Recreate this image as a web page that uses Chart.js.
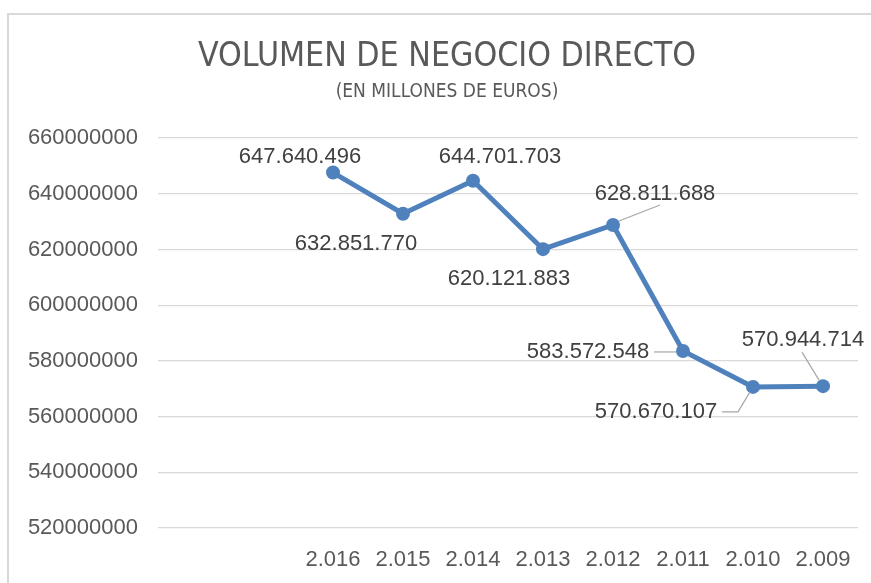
<!DOCTYPE html>
<html><head><meta charset="utf-8">
<script src="https://cdn.jsdelivr.net/npm/chart.js@4"></script>
<style>
html,body{margin:0;padding:0;background:#fff;width:871px;height:583px;overflow:hidden}
#frame{position:absolute;left:7px;top:13px;width:900px;height:600px;border-left:2px solid #d9d9d9;border-top:2px solid #d9d9d9}
#wrap{position:absolute;left:0;top:0;width:871px;height:583px}
</style></head><body>
<div id="frame"></div>
<div id="wrap"><canvas id="c"></canvas></div>
<script>
// ---- data ----
const titleText = 'VOLUMEN DE NEGOCIO DIRECTO';
const subtitleText = '(EN MILLONES DE EUROS)';
const years = ['2.016', '2.015', '2.014', '2.013', '2.012', '2.011', '2.010', '2.009'];
const values = [647640496, 632851770, 644701703, 620121883, 628811688, 583572548, 570670107, 570944714];
const emptyLeadingSlots = ['', ''];
const yMin = 520000000, yMax = 660000000, yStep = 20000000;

// ---- build ----
const labels = emptyLeadingSlots.concat(years);
const series = emptyLeadingSlots.map(() => null).concat(values);
const fmt = v => String(v).replace(/\B(?=(\d{3})+(?!\d))/g, '.');

// label placement relative to each plotted point (style only)
const placement = [
  null, null,
  {dx: -33, dy: -16},
  {dx: -47, dy: 30},
  {dx: 27, dy: -24},
  {dx: -34, dy: 30},
  {dx: 42, dy: -31, leader: [[6, -4], [47, -20]]},
  {dx: -95, dy: 1, leader: [[-29, 1], [-7, 1]]},
  {dx: -97, dy: 25, leader: [[-31, 25], [-15, 25], [-3, 5]]},
  {dx: -20, dy: -46, leader: [[-21, -34], [-4, -6]]}
];

const dataLabels = {
  id: 'dataLabels',
  afterDatasetsDraw(chart) {
    const ctx = chart.ctx;
    const meta = chart.getDatasetMeta(0);
    ctx.save();
    meta.data.forEach((pt, i) => {
      const v = chart.data.datasets[0].data[i];
      const p = placement[i];
      if (v == null || !p) return;
      if (p.leader) {
        ctx.beginPath();
        ctx.strokeStyle = '#a6a6a6';
        ctx.lineWidth = 1.2;
        p.leader.forEach((q, k) => {
          const x = pt.x + q[0], y = pt.y + q[1];
          if (k === 0) ctx.moveTo(x, y); else ctx.lineTo(x, y);
        });
        ctx.stroke();
      }
      ctx.fillStyle = '#404040';
      ctx.font = '22px "Liberation Sans", Arial, sans-serif';
      ctx.textAlign = 'center';
      ctx.textBaseline = 'middle';
      ctx.fillText(fmt(v), pt.x + p.dx, pt.y + p.dy);
    });
    ctx.restore();
  }
};

new Chart(document.getElementById('c'), {
  type: 'line',
  data: {
    labels: labels,
    datasets: [{
      data: series,
      borderColor: '#4f81bd',
      backgroundColor: '#4f81bd',
      borderWidth: 5,
      pointRadius: 7,
      pointHoverRadius: 7,
      pointBorderWidth: 0,
      pointBackgroundColor: '#4f81bd',
      tension: 0,
      spanGaps: false
    }]
  },
  options: {
    responsive: true,
    maintainAspectRatio: false,
    devicePixelRatio: 1,
    animation: false,
    layout: {padding: {left: 36, right: 13, top: 20, bottom: 0}},
    plugins: {
      legend: {display: false},
      tooltip: {enabled: false},
      title: {
        display: true,
        text: titleText,
        color: '#595959',
        font: {family: '"Liberation Sans Narrow", "DejaVu Sans Condensed", sans-serif', size: 33.6, weight: 'normal', lineHeight: 1.2},
        padding: {top: 17, bottom: 3}
      },
      subtitle: {
        display: true,
        text: subtitleText,
        color: '#595959',
        font: {family: '"Liberation Sans Narrow", "DejaVu Sans Condensed", sans-serif', size: 19, weight: 'normal', lineHeight: 1.2},
        padding: {top: 0, bottom: 35}
      }
    },
    scales: {
      x: {
        offset: true,
        grid: {display: false, drawTicks: false, offset: true},
        border: {display: false},
        ticks: {
          color: '#595959',
          font: {family: '"Liberation Sans", Arial, sans-serif', size: 22},
          padding: 19,
          autoSkip: false,
          maxRotation: 0
        },
        afterFit(scale) { scale.height = 55; }
      },
      y: {
        min: yMin,
        max: yMax,
        grid: {color: '#d9d9d9', lineWidth: 1.3, drawTicks: false},
        border: {display: false},
        ticks: {
          stepSize: yStep,
          color: '#595959',
          font: {family: '"Liberation Sans", Arial, sans-serif', size: 22},
          padding: 20,
          callback: v => String(v)
        },
        afterFit(scale) {
          scale.width = 122;
          scale._computeLabelArea = () => undefined;
        }
      }
    }
  },
  plugins: [dataLabels]
});
</script>
</body></html>
